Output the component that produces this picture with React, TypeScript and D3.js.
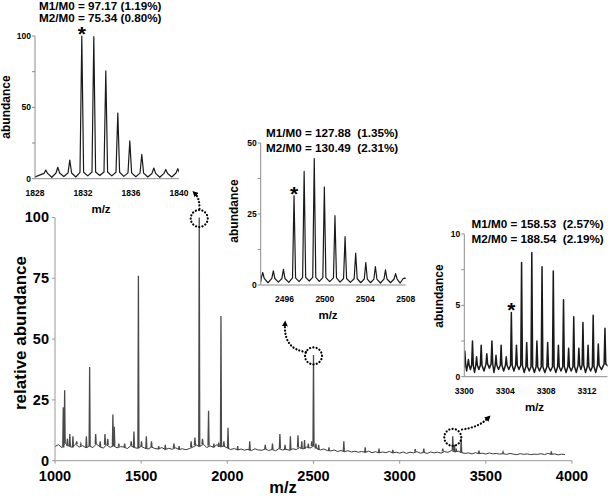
import React from 'react'
import * as d3 from 'd3'

const W = 608
const H = 497
const FONT = 'Liberation Sans, Arial, Helvetica, sans-serif'

// ---- main spectrum ----
const mainTicksX = [1000, 1500, 2000, 2500, 3000, 3500, 4000]
const mainTicksY = [0, 25, 50, 75, 100]
// noise floor, one value every 20 m/z from 1000
const baselineAbund = [
  5.8, 6.6, 5.4, 7.2, 6.0, 5.5, 6.8, 5.6, 6.2, 5.3,
  6.0, 5.4, 6.9, 5.7, 5.2, 6.5, 5.5, 6.1, 5.3, 5.8,
  5.6, 5.0, 6.2, 5.4, 5.1, 5.9, 5.2, 4.8, 5.6, 5.0,
  4.8, 5.4, 4.6, 5.1, 4.7, 5.3, 4.6, 4.9, 4.5, 5.0,
  5.6, 6.4, 5.8, 6.8, 5.4, 6.1, 5.5, 6.6, 5.7, 6.0,
  5.2, 4.6, 5.0, 4.4, 4.8, 4.3, 4.7, 4.2, 4.9, 4.4,
  4.3, 4.8, 4.2, 4.6, 4.1, 5.0, 4.4, 4.7, 4.3, 4.9,
  4.6, 5.4, 4.8, 5.6, 5.2, 6.0, 5.0, 4.4, 4.8, 4.2,
  4.0, 4.4, 3.8, 4.2, 3.7, 4.1, 3.6, 3.9, 3.5, 3.8,
  3.4, 3.9, 3.3, 3.7, 3.2, 3.6, 3.3, 3.8, 3.2, 3.5,
  3.1, 3.6, 3.0, 3.5, 3.2, 3.7, 3.1, 3.4, 3.0, 3.6,
  3.2, 3.5, 3.1, 3.8, 3.4, 4.2, 3.6, 3.9, 3.3, 3.0,
  3.2, 2.8, 3.3, 2.9, 3.1, 2.7, 3.2, 2.8, 3.0, 2.7,
  2.9, 2.6, 3.0, 2.7, 2.5, 2.9, 2.6, 2.8, 2.5, 2.7,
  2.6, 2.9, 2.5, 3.0, 2.6, 2.8, 2.4, 2.7, 2.5,
]
const peakMz = [
  1048, 1056, 1072, 1086, 1104, 1126, 1150, 1182, 1201, 1236, 1262, 1290, 1306,
  1336, 1344, 1370, 1404, 1442, 1458, 1484, 1502, 1530, 1560, 1602, 1640, 1690,
  1720, 1790, 1812, 1837, 1856, 1891, 1922, 1950, 1963, 1980, 2004, 2060, 2130,
  2220, 2262, 2305, 2335, 2366, 2410, 2432, 2448, 2470, 2490, 2500, 2514, 2530,
  2590, 2676, 2800, 2880, 2960, 3090, 3140, 3250, 3308, 3318, 3328, 3357, 3460,
  3600, 3880,
]
const peakAbund = [
  22, 29, 9, 11, 10, 8, 7, 10, 38.5, 11, 8, 11, 9,
  19, 14, 7, 7, 8, 12, 76, 8, 10, 8, 6, 6.5, 7,
  6, 8, 9.5, 100, 9, 20.5, 7, 7.5, 59.5, 8, 13.5, 6, 8,
  6.5, 7, 11, 6.5, 10, 10.5, 8, 8.5, 7, 8, 43.5, 7, 6.5,
  5.5, 8, 5.5, 5, 4.5, 4.8, 5, 5, 10, 6.5, 5, 9, 4.2,
  3.6, 3.8,
]
const zoomedPeaks = [1837, 2500, 3308]

// ---- insets ----
const inset1Mz = [1828.9, 1829.9, 1830.9, 1831.9, 1832.9, 1833.9, 1834.9, 1835.9, 1836.9, 1837.9, 1838.9, 1839.9]
const inset1Abund = [6, 8, 13, 100, 99.5, 75.5, 46, 26.5, 17, 7.5, 6.5, 7]
const inset1Valley = [1.2, 1.0, 1.5, 1.2, 2.0, 2.2, 2.0, 1.6, 1.4, 1.2, 1.0, 1.2, 1.5]

const inset2Mz = [2493.85, 2494.9, 2495.9, 2496.95, 2497.95, 2498.95, 2499.95, 2501.0, 2502.0, 2503.05, 2504.05, 2505.0, 2506.0, 2507.0, 2507.9]
const inset2Abund = [4.4, 5, 5.5, 31.5, 40, 44.5, 34.5, 24.4, 17, 11.2, 7.9, 6.5, 5.3, 4, 2.4]
const inset2Valley = [1.0, 0.8, 1.0, 0.9, 1.2, 1.4, 1.3, 1.2, 1.0, 0.9, 0.8, 0.8, 0.7, 0.8, 0.7, 1.0]

const inset3Mz = [
  3300.05, 3300.4, 3300.8, 3301.2, 3301.65, 3302.2, 3302.7, 3303.1, 3303.6, 3304.1,
  3304.6, 3305.1, 3305.6, 3306.1, 3306.6, 3307.1, 3307.6, 3308.15, 3308.7, 3309.2,
  3309.7, 3310.2, 3310.7, 3311.2, 3311.6, 3312.1, 3312.6, 3313.1, 3313.75,
]
const inset3Abund = [
  1.8, 1.2, 2.5, 1.4, 2.2, 1.6, 2.5, 1.5, 2.2, 1.4,
  4.5, 2.2, 8.0, 2.4, 8.7, 2.5, 7.7, 2.4, 7.4, 2.2,
  5.4, 2.0, 4.2, 2.0, 3.8, 2.2, 4.3, 2.3, 3.4,
]
const inset3Valley = [
  0.6, 0.4, 0.5, 0.3, 0.5, 0.4, 0.6, 0.3, 0.5, 0.4,
  0.5, 0.4, 0.5, 0.3, 0.4, 0.3, 0.4, 0.3, 0.4, 0.3,
  0.4, 0.3, 0.4, 0.3, 0.5, 0.3, 0.4, 0.3, 0.5, 0.6,
]

type Pt = [number, number]

const tracePoints = (mz: number[], ab: number[], valley: number[], hw: number, lift: number, start: number): Pt[] => {
  const pts: Pt[] = [[start, valley[0]]]
  mz.forEach((c, i) => {
    if (i > 0) pts.push([(mz[i - 1] + c) / 2, valley[i]])
    const foot = Math.max(valley[i], valley[i + 1]) + lift
    pts.push([c - hw, foot], [c, ab[i]], [c + hw, foot])
  })
  pts.push([mz[mz.length - 1] + 0.5, valley[mz.length]])
  return pts
}

type InsetProps = {
  id: string
  x0: number
  x1: number
  y0: number
  y1: number
  domainX: [number, number]
  maxY: number
  ticksX: number[]
  ticksY: number[]
  labelsY: number[]
  mz: number[]
  abund: number[]
  valley: number[]
  hw: number
  lift: number
  stroke: number
  starIdx: number
  lines: string[]
  textX: number
  textY: number
  lineGap: number
  labelX: number
  labelY: number
  mzX: number
}

const Inset = (p: InsetProps) => {
  const x = d3.scaleLinear().domain(p.domainX).range([p.x0, p.x1])
  const y = d3.scaleLinear().domain([0, p.maxY]).range([p.y0, p.y1])
  const pts = tracePoints(p.mz, p.abund, p.valley, p.hw, p.lift, p.domainX[0])
  const line = d3.line<Pt>().x((d) => x(d[0])).y((d) => y(d[1]))
  const sx = x(p.mz[p.starIdx])
  const sy = y(p.abund[p.starIdx]) - 7
  return (
    <g>
      <clipPath id={p.id}>
        <rect x={p.x0} y={p.y1 - 5} width={p.x1 - p.x0} height={p.y0 - p.y1 + 5} />
      </clipPath>
      <path d={line(pts) || ''} fill="none" stroke="#1a1a1a" strokeWidth={p.stroke} strokeLinejoin="round" clipPath={`url(#${p.id})`} />
      <line x1={p.x0} x2={p.x0} y1={p.y1} y2={p.y0} stroke="#8c8c8c" />
      <line x1={p.x0} x2={p.x1} y1={p.y0} y2={p.y0} stroke="#8c8c8c" />
      {p.ticksY.map((t) => (
        <line key={t} x1={p.x0 - 3} x2={p.x0} y1={y(t)} y2={y(t)} stroke="#8c8c8c" />
      ))}
      {p.labelsY.map((t) => (
        <text key={t} x={p.x0 - 4} y={y(t)} dy="0.35em" textAnchor="end" fontSize={8.5} fontWeight="bold">
          {t}
        </text>
      ))}
      {p.ticksX.map((t) => (
        <text key={t} x={x(t)} y={p.y0 + 17} textAnchor="middle" fontSize={8.5} fontWeight="bold">
          {t}
        </text>
      ))}
      <text x={p.mzX} y={p.y0 + 34} textAnchor="middle" fontSize={11.5} fontWeight="bold">m/z</text>
      <text transform={`translate(${p.labelX},${p.labelY}) rotate(-90)`} textAnchor="middle" fontSize={12} fontWeight="bold">
        abundance
      </text>
      <text x={sx} y={sy + 12} textAnchor="middle" fontSize={21} fontWeight="bold">*</text>
      {p.lines.map((s, i) => (
        <text key={i} x={p.textX} y={p.textY + i * p.lineGap} fontSize={11.7} fontWeight="bold" style={{ whiteSpace: 'pre' }}>
          {s}
        </text>
      ))}
    </g>
  )
}

const App = () => {
  const x = d3.scaleLinear().domain([1000, 4000]).range([55, 572])
  const y = d3.scaleLinear().domain([0, 100]).range([460.7, 217.5])
  const basePts: Pt[] = baselineAbund.map((v, i) => [1000 + i * 20, v])
  const line = d3.line<Pt>().x((d) => x(d[0])).y((d) => y(d[1]))
  const baseAt = (m: number) => baselineAbund[Math.min(baselineAbund.length - 1, Math.round((m - 1000) / 20))]

  const dotted = { fill: 'none', stroke: '#000', strokeWidth: 2.2, strokeDasharray: '0.1 3.2', strokeLinecap: 'round' as const }

  return (
    <svg width={W} height={H} style={{ position: 'absolute', left: 0, top: 0, background: '#fff' }} fontFamily={FONT}>
      <defs>
        <marker id="arr" viewBox="0 0 10 10" refX="4" refY="5" markerUnits="userSpaceOnUse" markerWidth="6" markerHeight="6" orient="auto">
          <path d="M0,0 L10,5 L0,10 z" fill="#000" />
        </marker>
      </defs>

      {/* main spectrum */}
      <path d={line(basePts) || ''} fill="none" stroke="#3a3a3a" strokeWidth={1} />
      {peakMz.map((m, i) => {
        const b = baseAt(m)
        const pts: Pt[] = [[m - 3, b], [m, peakAbund[i]], [m + 3, b]]
        return <path key={m} d={line(pts) || ''} fill="none" stroke="#4a4a4a" strokeWidth={1.3} />
      })}
      <line x1={55} x2={55} y1={y(100)} y2={y(0)} stroke="#999" />
      <line x1={55} x2={572} y1={y(0)} y2={y(0)} stroke="#999" />
      {mainTicksY.map((t) => (
        <g key={t}>
          <line x1={52} x2={55} y1={y(t)} y2={y(t)} stroke="#999" />
          <text x={49} y={y(t)} dy="0.34em" textAnchor="end" fontSize={14.5} fontWeight="bold">{t}</text>
        </g>
      ))}
      {mainTicksX.map((t) => (
        <g key={t}>
          <line x1={x(t)} x2={x(t)} y1={y(0)} y2={y(0) + 3} stroke="#999" />
          <text x={x(t)} y={481} textAnchor="middle" fontSize={14.5} fontWeight="bold">{t}</text>
        </g>
      ))}
      <text x={283} y={493} textAnchor="middle" fontSize={16.5} fontWeight="bold">m/z</text>
      <text transform="translate(26,333) rotate(-90)" textAnchor="middle" fontSize={17} fontWeight="bold">
        relative abundance
      </text>

      {/* circles around the zoomed peaks */}
      {zoomedPeaks.map((m) => {
        const i = peakMz.indexOf(m)
        return <circle key={m} cx={x(m)} cy={y(peakAbund[i]) + 1} r={8.5} {...dotted} />
      })}

      {/* arrows to the insets */}
      <path d="M199.5,209 C199.5,202 198.5,197 195,193.5" {...dotted} markerEnd="url(#arr)" />
      <path d="M306,352 C291,350 284,341 285,324" {...dotted} markerEnd="url(#arr)" />
      <path d="M462,429.5 C474,428 482,424 488,418" {...dotted} markerEnd="url(#arr)" />

      <Inset
        id="c1" x0={35} x1={179} y0={178.7} y1={36} domainX={[1828, 1840]} maxY={100}
        ticksX={[1828, 1832, 1836, 1840]} ticksY={[0, 25, 50, 75, 100]} labelsY={[0, 50, 100]}
        mz={inset1Mz} abund={inset1Abund} valley={inset1Valley} hw={0.15} lift={2.5} stroke={1.2} starIdx={3}
        lines={['M1/M0 = 97.17 (1.19%)', 'M2/M0 = 75.34 (0.80%)']} textX={39} textY={10} lineGap={12.3}
        labelX={10} labelY={107} mzX={101}
      />
      <Inset
        id="c2" x0={260.7} x1={405.7} y0={285} y1={143} domainX={[2493.65, 2508]} maxY={50}
        ticksX={[2496, 2500, 2504, 2508]} ticksY={[0, 12.5, 25, 37.5, 50]} labelsY={[0, 25, 50]}
        mz={inset2Mz} abund={inset2Abund} valley={inset2Valley} hw={0.15} lift={1.3} stroke={1.2} starIdx={3}
        lines={['M1/M0 = 127.88  (1.35%)', 'M2/M0 = 130.49  (2.31%)']} textX={266} textY={136.5} lineGap={15}
        labelX={238} labelY={211} mzX={328}
      />
      <Inset
        id="c3" x0={464.3} x1={607.5} y0={376.7} y1={234} domainX={[3300, 3314]} maxY={10}
        ticksX={[3300, 3304, 3308, 3312]} ticksY={[0, 2.5, 5, 7.5, 10]} labelsY={[0, 5, 10]}
        mz={inset3Mz} abund={inset3Abund} valley={inset3Valley} hw={0.08} lift={0.3} stroke={1.5} starIdx={10}
        lines={['M1/M0 = 158.53  (2.57%)', 'M2/M0 = 188.54  (2.19%)']} textX={471.5} textY={227.5} lineGap={15}
        labelX={443} labelY={296} mzX={534.5}
      />
    </svg>
  )
}

export default App
